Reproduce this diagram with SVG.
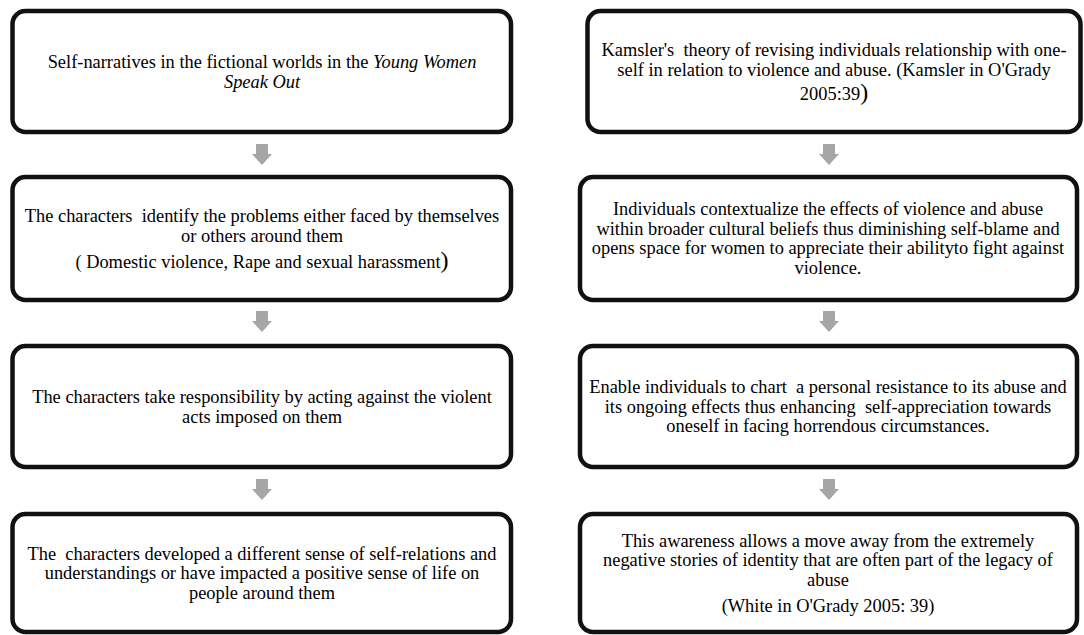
<svg xmlns="http://www.w3.org/2000/svg" width="1084" height="635" viewBox="0 0 1084 635">
  <style>
    .box { fill: #ffffff; stroke: #111111; stroke-width: 4.5; }
    .txt { font-size: 18.4px; fill: #000000; text-anchor: middle; }
    .it { font-style: italic; }
    .big { font-size: 24px; }
    .arrow { fill: #a6a6a6; }
  </style>
  <defs>
    <!-- grey block arrow pointing down, origin at top centre -->
    <path id="down" class="arrow" d="M -6 0 H 6 V 10 H 10 L 0 21 L -10 10 H -6 Z"/>
  </defs>
  <rect width="1084" height="635" fill="#ffffff"/>

  <g id="connectors">
    <use href="#down" x="262" y="144"/>
    <use href="#down" x="262" y="311"/>
    <use href="#down" x="262" y="479"/>
    <use href="#down" x="829" y="144"/>
    <use href="#down" x="829" y="311"/>
    <use href="#down" x="829" y="479"/>
  </g>

  <g font-family="Liberation Serif, Times New Roman, serif">
    <!-- left column -->
    <g id="left-1">
      <rect class="box" x="12.5" y="11" width="498.5" height="121" rx="13"/>
      <text class="txt" x="262" y="68">Self-narratives in the fictional worlds in the <tspan class="it">Young Women</tspan></text>
      <text class="txt it" x="262" y="87.5">Speak Out</text>
    </g>
    <g id="left-2">
      <rect class="box" x="12.5" y="177" width="498.5" height="123" rx="13"/>
      <text class="txt" x="262" y="222" xml:space="preserve">The characters  identify the problems either faced by themselves</text>
      <text class="txt" x="262" y="241.5">or others around them</text>
      <text class="txt" x="262" y="267.5">( Domestic violence, Rape and sexual harassment<tspan class="big">)</tspan></text>
    </g>
    <g id="left-3">
      <rect class="box" x="12.5" y="346" width="498.5" height="121" rx="13"/>
      <text class="txt" x="262" y="403">The characters take responsibility by acting against the violent</text>
      <text class="txt" x="262" y="422.5">acts imposed on them</text>
    </g>
    <g id="left-4">
      <rect class="box" x="12.5" y="514" width="498.5" height="118" rx="13"/>
      <text class="txt" x="262" y="559.5" xml:space="preserve">The  characters developed a different sense of self-relations and</text>
      <text class="txt" x="262" y="579">understandings or have impacted a positive sense of life on</text>
      <text class="txt" x="262" y="598.5">people around them</text>
    </g>

    <!-- right column -->
    <g id="right-1">
      <rect class="box" x="587.5" y="11" width="493" height="121" rx="13"/>
      <text class="txt" x="834" y="56" xml:space="preserve">Kamsler's  theory of revising individuals relationship with one-</text>
      <text class="txt" x="834" y="75.5">self in relation to violence and abuse. (Kamsler in O'Grady</text>
      <text class="txt" x="834" y="99.5">2005:39<tspan class="big">)</tspan></text>
    </g>
    <g id="right-2">
      <rect class="box" x="580" y="177" width="497" height="123" rx="13"/>
      <text class="txt" x="828" y="215">Individuals contextualize the effects of violence and abuse</text>
      <text class="txt" x="828" y="234.5">within broader cultural beliefs thus diminishing self-blame and</text>
      <text class="txt" x="828" y="254">opens space for women to appreciate their abilityto fight against</text>
      <text class="txt" x="828" y="273.5">violence.</text>
    </g>
    <g id="right-3">
      <rect class="box" x="580" y="346" width="497" height="121" rx="13"/>
      <text class="txt" x="828" y="393" xml:space="preserve">Enable individuals to chart  a personal resistance to its abuse and</text>
      <text class="txt" x="828" y="412.5" xml:space="preserve">its ongoing effects thus enhancing  self-appreciation towards</text>
      <text class="txt" x="828" y="432">oneself in facing horrendous circumstances.</text>
    </g>
    <g id="right-4">
      <rect class="box" x="580" y="514" width="497" height="118" rx="13"/>
      <text class="txt" x="828" y="546.5">This awareness allows a move away from the extremely</text>
      <text class="txt" x="828" y="566">negative stories of identity that are often part of the legacy of</text>
      <text class="txt" x="828" y="585.5">abuse</text>
      <text class="txt" x="828" y="611.5">(White in O'Grady 2005: 39)</text>
    </g>
  </g>
</svg>
